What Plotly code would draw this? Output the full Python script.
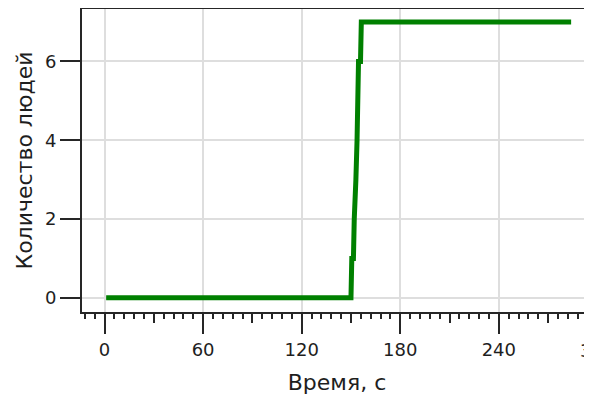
import plotly.graph_objects as go

# Data (time in seconds, number of people)
time_s = [1, 150.0, 150.5, 151.5, 152.0, 152.4, 153.0, 153.7, 154.2, 154.6, 155.8, 156.3, 284]
people = [0, 0, 1, 1, 2, 3, 3, 4, 5, 6, 6, 7, 7]

x_title = "Время, с"
y_title = "Количество людей"
x_range = [-13.7, 296.7]
y_range = [-0.36, 7.33]
x_major = 60
y_major = 2
x_extra_label = 300

font_family = "DejaVu Sans, sans-serif"
axis_col = "#262626"
grid_col = "#dedede"
txt_col = "#1e1e1e"

fig = go.Figure()
fig.add_trace(go.Scatter(
    x=time_s, y=people, mode="lines",
    line=dict(color="#008000", width=5),
    hoverinfo="skip", showlegend=False,
))

# page body adds an 8px offset on the left and top
fig.update_layout(
    width=584, height=395,
    margin=dict(l=74, r=0, t=1, b=91),
    paper_bgcolor="white", plot_bgcolor="white",
    font=dict(family=font_family, size=18, color=txt_col),
    xaxis=dict(
        range=x_range, tick0=0, dtick=x_major, automargin=False,
        ticks="outside", ticklen=20, tickwidth=1.5, tickcolor=axis_col,
        showline=True, linecolor=axis_col, linewidth=2, mirror=True,
        showgrid=True, gridcolor=grid_col, gridwidth=1.5,
        zeroline=False,
        minor=dict(dtick=6, tick0=0, ticks="outside", ticklen=5,
                   tickwidth=1.5, tickcolor=axis_col, showgrid=False),
        title=dict(text=x_title, font=dict(size=22), standoff=16),
        tickfont=dict(size=18),
    ),
    xaxis2=dict(
        range=x_range, overlaying="x", anchor="y", side="bottom",
        tick0=30, dtick=x_major, ticks="outside", ticklen=10,
        tickwidth=1.5, tickcolor=axis_col, automargin=False,
        showticklabels=False, showgrid=False, showline=False, zeroline=False,
    ),
    yaxis=dict(
        range=y_range, tick0=0, dtick=y_major, automargin=False,
        ticks="outside", ticklen=20, tickwidth=1.5, tickcolor=axis_col,
        showline=True, linecolor=axis_col, linewidth=2, mirror=False,
        showgrid=True, gridcolor=grid_col, gridwidth=1.5,
        zeroline=False,
        title=dict(text=y_title, font=dict(size=22), standoff=6),
        tickfont=dict(size=18),
    ),
)

# invisible trace to activate xaxis2
fig.add_trace(go.Scatter(x=[None], y=[None], xaxis="x2", showlegend=False, hoverinfo="skip"))

# partially visible tick label at the right edge (tick beyond range)
frac = (x_extra_label - x_range[0]) / (x_range[1] - x_range[0])
fig.add_annotation(
    text=str(x_extra_label), xref="paper", yref="paper",
    x=frac, y=0, yshift=-26, xanchor="center", yanchor="top",
    showarrow=False, font=dict(size=18, color=txt_col),
)

fig.write_html("out.html")
